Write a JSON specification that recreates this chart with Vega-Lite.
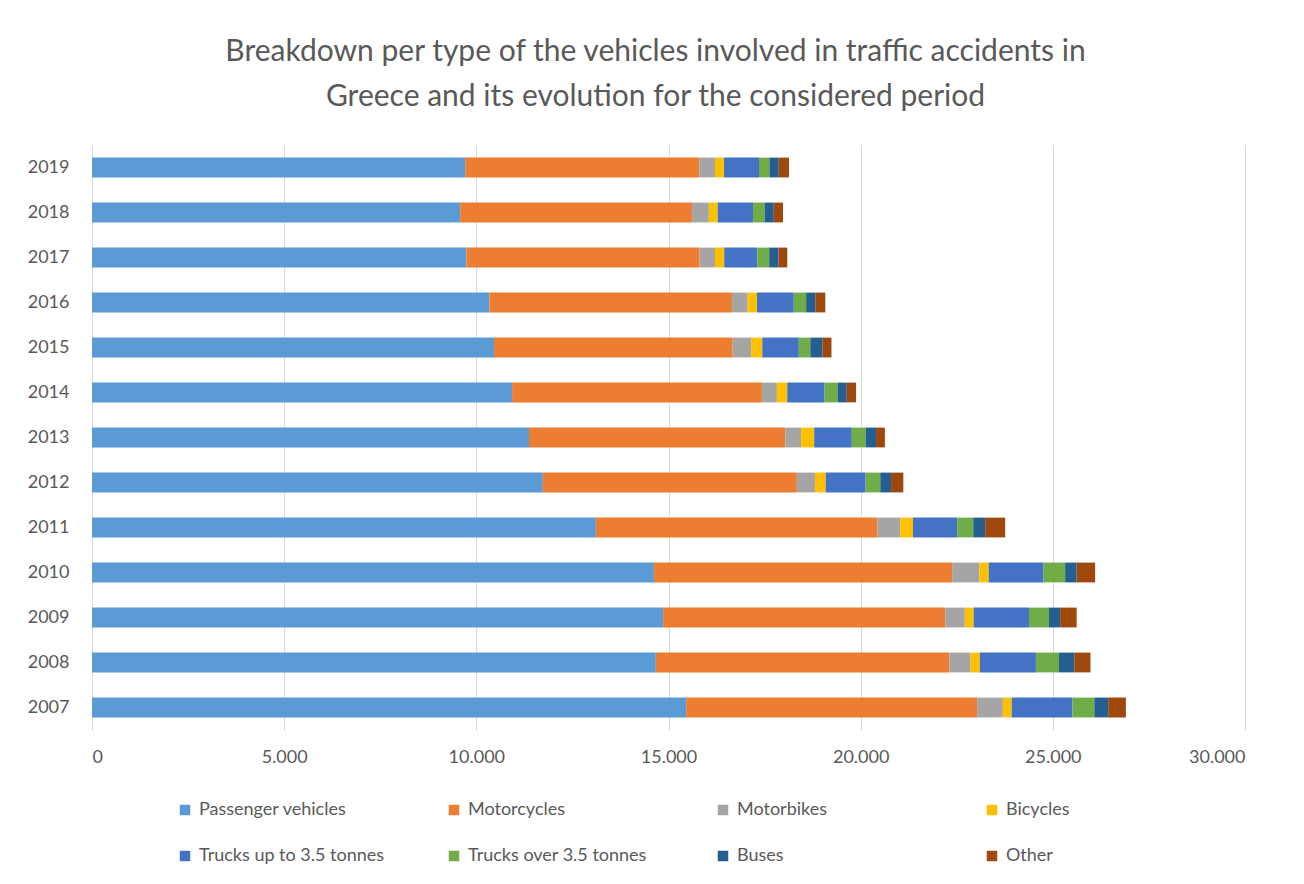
{
  "$schema": "https://vega.github.io/schema/vega-lite/v6.json",
  "width": 1153,
  "height": 585,
  "autosize": {"type": "none"},
  "padding": {"left": 92, "top": 145, "right": 59, "bottom": 154},
  "background": "white",
  "title": {
    "text": [
      "Breakdown per type of the vehicles involved in traffic accidents in",
      "Greece and its evolution for the considered period"
    ],
    "fontSize": 30,
    "font": "Lato",
    "fontWeight": "normal",
    "color": "#595959",
    "lineHeight": 45,
    "offset": 33,
    "anchor": "middle",
    "dx": -13
  },
  "data": {
    "values": [
      {"year": "2019", "type": "Passenger vehicles", "count": 9710},
      {"year": "2019", "type": "Motorcycles", "count": 6090},
      {"year": "2019", "type": "Motorbikes", "count": 410},
      {"year": "2019", "type": "Bicycles", "count": 235},
      {"year": "2019", "type": "Trucks up to 3.5 tonnes", "count": 910},
      {"year": "2019", "type": "Trucks over 3.5 tonnes", "count": 270},
      {"year": "2019", "type": "Buses", "count": 245},
      {"year": "2019", "type": "Other", "count": 265},

      {"year": "2018", "type": "Passenger vehicles", "count": 9580},
      {"year": "2018", "type": "Motorcycles", "count": 6030},
      {"year": "2018", "type": "Motorbikes", "count": 440},
      {"year": "2018", "type": "Bicycles", "count": 230},
      {"year": "2018", "type": "Trucks up to 3.5 tonnes", "count": 920},
      {"year": "2018", "type": "Trucks over 3.5 tonnes", "count": 300},
      {"year": "2018", "type": "Buses", "count": 240},
      {"year": "2018", "type": "Other", "count": 240},

      {"year": "2017", "type": "Passenger vehicles", "count": 9740},
      {"year": "2017", "type": "Motorcycles", "count": 6070},
      {"year": "2017", "type": "Motorbikes", "count": 400},
      {"year": "2017", "type": "Bicycles", "count": 240},
      {"year": "2017", "type": "Trucks up to 3.5 tonnes", "count": 860},
      {"year": "2017", "type": "Trucks over 3.5 tonnes", "count": 310},
      {"year": "2017", "type": "Buses", "count": 240},
      {"year": "2017", "type": "Other", "count": 230},

      {"year": "2016", "type": "Passenger vehicles", "count": 10340},
      {"year": "2016", "type": "Motorcycles", "count": 6310},
      {"year": "2016", "type": "Motorbikes", "count": 410},
      {"year": "2016", "type": "Bicycles", "count": 240},
      {"year": "2016", "type": "Trucks up to 3.5 tonnes", "count": 960},
      {"year": "2016", "type": "Trucks over 3.5 tonnes", "count": 320},
      {"year": "2016", "type": "Buses", "count": 240},
      {"year": "2016", "type": "Other", "count": 260},

      {"year": "2015", "type": "Passenger vehicles", "count": 10460},
      {"year": "2015", "type": "Motorcycles", "count": 6210},
      {"year": "2015", "type": "Motorbikes", "count": 480},
      {"year": "2015", "type": "Bicycles", "count": 290},
      {"year": "2015", "type": "Trucks up to 3.5 tonnes", "count": 950},
      {"year": "2015", "type": "Trucks over 3.5 tonnes", "count": 300},
      {"year": "2015", "type": "Buses", "count": 320},
      {"year": "2015", "type": "Other", "count": 230},

      {"year": "2014", "type": "Passenger vehicles", "count": 10930},
      {"year": "2014", "type": "Motorcycles", "count": 6500},
      {"year": "2014", "type": "Motorbikes", "count": 390},
      {"year": "2014", "type": "Bicycles", "count": 270},
      {"year": "2014", "type": "Trucks up to 3.5 tonnes", "count": 970},
      {"year": "2014", "type": "Trucks over 3.5 tonnes", "count": 340},
      {"year": "2014", "type": "Buses", "count": 240},
      {"year": "2014", "type": "Other", "count": 240},

      {"year": "2013", "type": "Passenger vehicles", "count": 11370},
      {"year": "2013", "type": "Motorcycles", "count": 6670},
      {"year": "2013", "type": "Motorbikes", "count": 410},
      {"year": "2013", "type": "Bicycles", "count": 340},
      {"year": "2013", "type": "Trucks up to 3.5 tonnes", "count": 980},
      {"year": "2013", "type": "Trucks over 3.5 tonnes", "count": 360},
      {"year": "2013", "type": "Buses", "count": 270},
      {"year": "2013", "type": "Other", "count": 230},

      {"year": "2012", "type": "Passenger vehicles", "count": 11730},
      {"year": "2012", "type": "Motorcycles", "count": 6610},
      {"year": "2012", "type": "Motorbikes", "count": 470},
      {"year": "2012", "type": "Bicycles", "count": 280},
      {"year": "2012", "type": "Trucks up to 3.5 tonnes", "count": 1040},
      {"year": "2012", "type": "Trucks over 3.5 tonnes", "count": 380},
      {"year": "2012", "type": "Buses", "count": 280},
      {"year": "2012", "type": "Other", "count": 320},

      {"year": "2011", "type": "Passenger vehicles", "count": 13110},
      {"year": "2011", "type": "Motorcycles", "count": 7330},
      {"year": "2011", "type": "Motorbikes", "count": 590},
      {"year": "2011", "type": "Bicycles", "count": 330},
      {"year": "2011", "type": "Trucks up to 3.5 tonnes", "count": 1150},
      {"year": "2011", "type": "Trucks over 3.5 tonnes", "count": 420},
      {"year": "2011", "type": "Buses", "count": 310},
      {"year": "2011", "type": "Other", "count": 520},

      {"year": "2010", "type": "Passenger vehicles", "count": 14620},
      {"year": "2010", "type": "Motorcycles", "count": 7760},
      {"year": "2010", "type": "Motorbikes", "count": 710},
      {"year": "2010", "type": "Bicycles", "count": 240},
      {"year": "2010", "type": "Trucks up to 3.5 tonnes", "count": 1430},
      {"year": "2010", "type": "Trucks over 3.5 tonnes", "count": 560},
      {"year": "2010", "type": "Buses", "count": 300},
      {"year": "2010", "type": "Other", "count": 480},

      {"year": "2009", "type": "Passenger vehicles", "count": 14860},
      {"year": "2009", "type": "Motorcycles", "count": 7340},
      {"year": "2009", "type": "Motorbikes", "count": 510},
      {"year": "2009", "type": "Bicycles", "count": 230},
      {"year": "2009", "type": "Trucks up to 3.5 tonnes", "count": 1440},
      {"year": "2009", "type": "Trucks over 3.5 tonnes", "count": 520},
      {"year": "2009", "type": "Buses", "count": 290},
      {"year": "2009", "type": "Other", "count": 430},

      {"year": "2008", "type": "Passenger vehicles", "count": 14670},
      {"year": "2008", "type": "Motorcycles", "count": 7640},
      {"year": "2008", "type": "Motorbikes", "count": 550},
      {"year": "2008", "type": "Bicycles", "count": 240},
      {"year": "2008", "type": "Trucks up to 3.5 tonnes", "count": 1460},
      {"year": "2008", "type": "Trucks over 3.5 tonnes", "count": 600},
      {"year": "2008", "type": "Buses", "count": 400},
      {"year": "2008", "type": "Other", "count": 420},

      {"year": "2007", "type": "Passenger vehicles", "count": 15460},
      {"year": "2007", "type": "Motorcycles", "count": 7570},
      {"year": "2007", "type": "Motorbikes", "count": 670},
      {"year": "2007", "type": "Bicycles", "count": 230},
      {"year": "2007", "type": "Trucks up to 3.5 tonnes", "count": 1580},
      {"year": "2007", "type": "Trucks over 3.5 tonnes", "count": 570},
      {"year": "2007", "type": "Buses", "count": 360},
      {"year": "2007", "type": "Other", "count": 460}
    ]
  },
  "transform": [
    {
      "calculate": "indexof(['Passenger vehicles', 'Motorcycles', 'Motorbikes', 'Bicycles', 'Trucks up to 3.5 tonnes', 'Trucks over 3.5 tonnes', 'Buses', 'Other'], datum.type)",
      "as": "stackOrder"
    }
  ],
  "mark": {"type": "bar"},
  "encoding": {
    "y": {
      "field": "year",
      "type": "ordinal",
      "sort": "descending",
      "scale": {"paddingInner": 0.56, "paddingOuter": 0.28},
      "axis": {
        "title": null,
        "domain": false,
        "ticks": false,
        "labelFontSize": 18,
        "labelColor": "#595959",
        "labelPadding": 23
      }
    },
    "x": {
      "field": "count",
      "type": "quantitative",
      "stack": "zero",
      "scale": {"domain": [0, 30000], "nice": false},
      "axis": {
        "title": null,
        "values": [0, 5000, 10000, 15000, 20000, 25000, 30000],
        "labelExpr": "replace(format(datum.value, ','), ',', '.')",
        "domain": false,
        "ticks": false,
        "grid": true,
        "gridColor": "#d9d9d9",
        "labelFontSize": 18,
        "labelColor": "#595959",
        "labelPadding": 18
      }
    },
    "order": {"field": "stackOrder", "type": "quantitative", "sort": "ascending"},
    "color": {
      "field": "type",
      "type": "nominal",
      "scale": {
        "domain": [
          "Passenger vehicles", "Motorcycles", "Motorbikes", "Bicycles",
          "Trucks up to 3.5 tonnes", "Trucks over 3.5 tonnes", "Buses", "Other"
        ],
        "range": ["#5B9BD5", "#ED7D31", "#A5A5A5", "#FFC000", "#4472C4", "#70AD47", "#255E91", "#9E480E"]
      },
      "legend": {
        "title": null,
        "orient": "none",
        "legendX": 84,
        "legendY": 656,
        "direction": "horizontal",
        "columns": 4,
        "gridAlign": "all",
        "columnPadding": 60,
        "rowPadding": 28,
        "symbolType": "square",
        "symbolSize": 110,
        "symbolStrokeWidth": 0,
        "labelFontSize": 18,
        "labelColor": "#595959",
        "labelLimit": 300,
        "labelOffset": 5
      }
    }
  },
  "config": {
    "font": "Lato",
    "view": {"stroke": null}
  }
}
